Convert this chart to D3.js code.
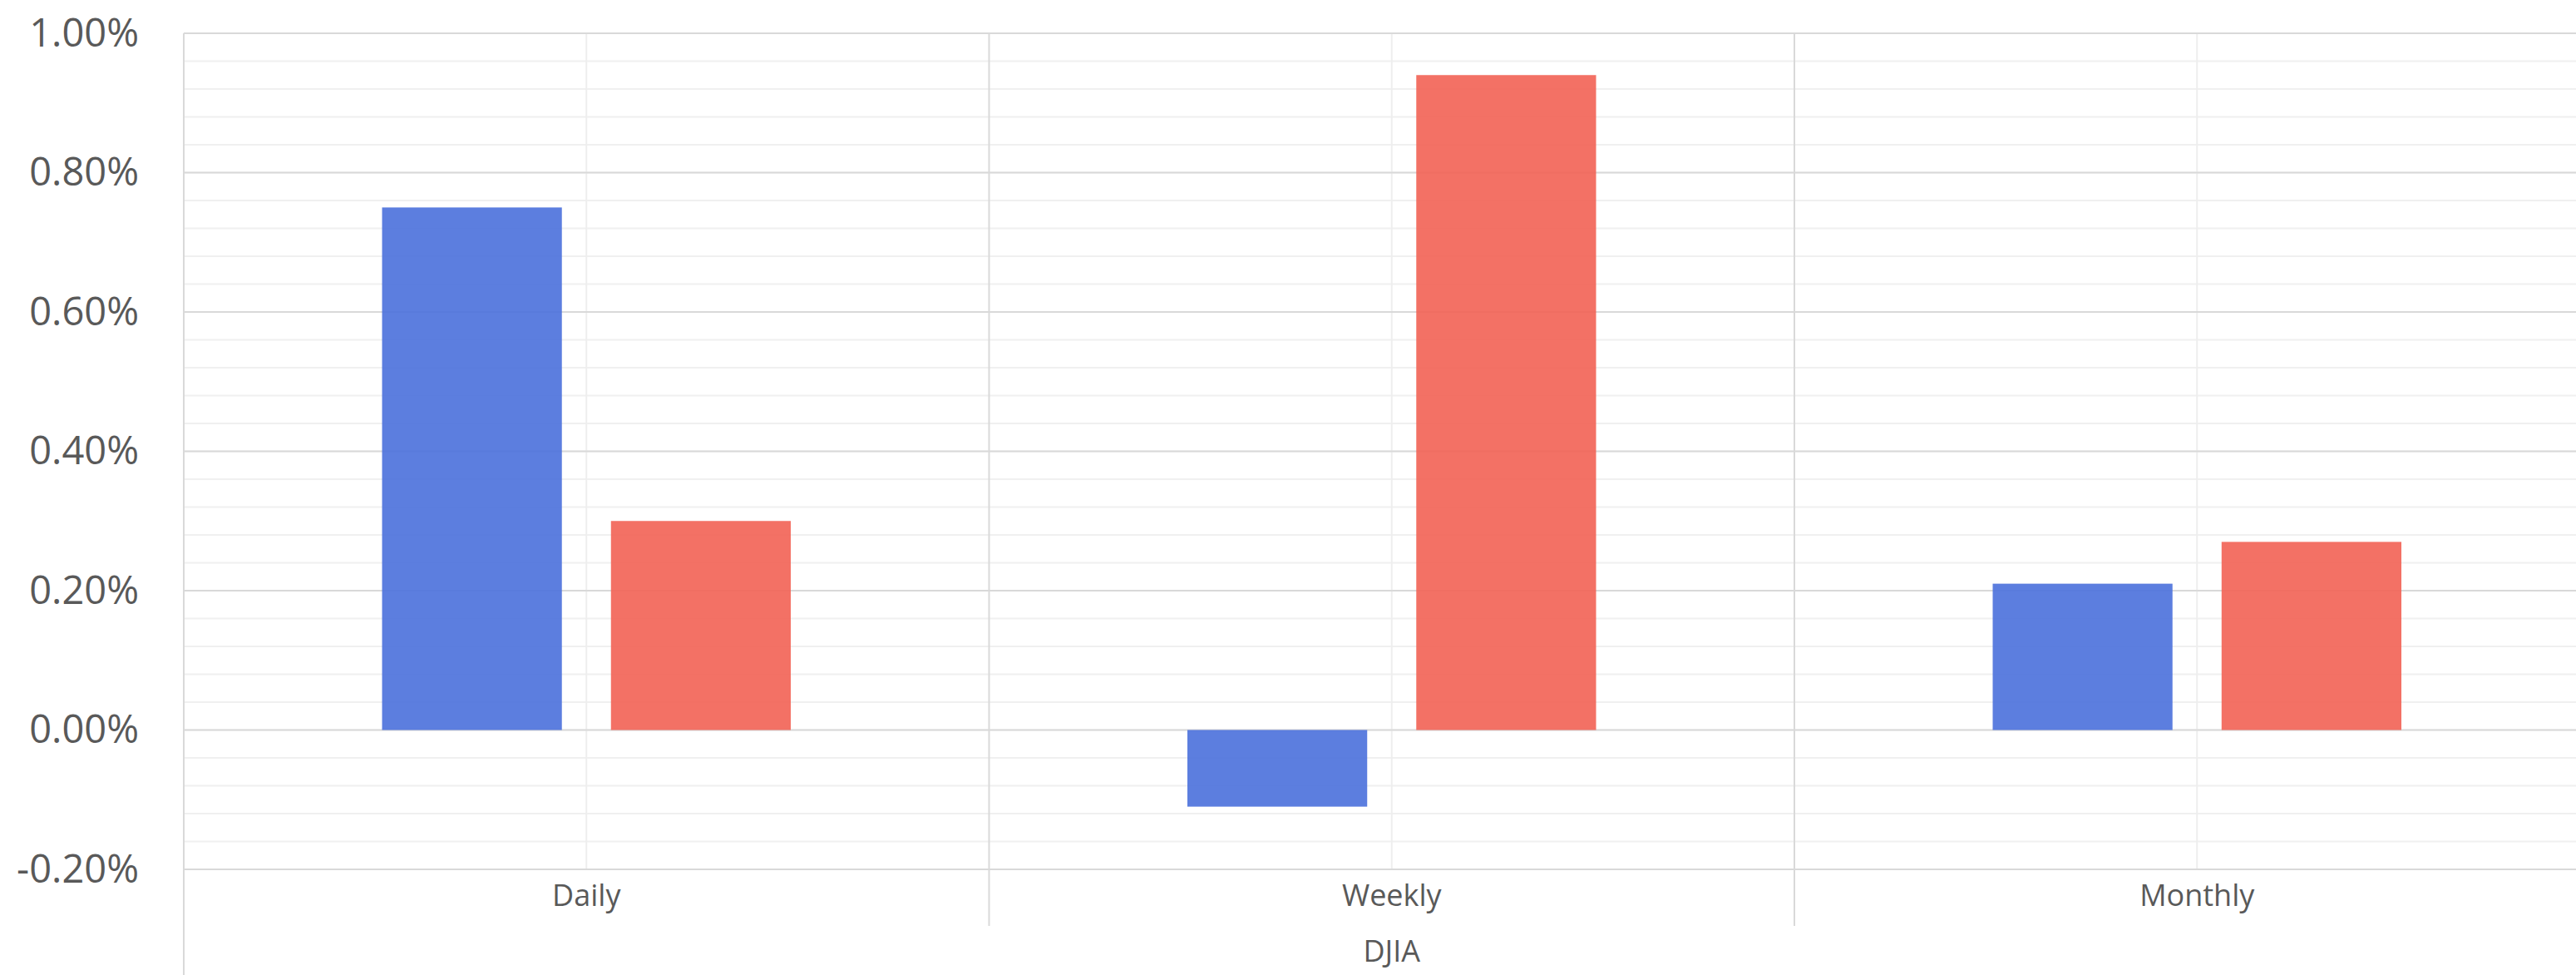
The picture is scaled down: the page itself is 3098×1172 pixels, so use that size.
<!DOCTYPE html>
<html>
<head>
<meta charset="utf-8">
<script src="https://cdn.jsdelivr.net/npm/d3@7"></script>
<style>
  html, body { margin: 0; padding: 0; background: #ffffff; }
  svg { display: block; }
</style>
</head>
<body>
<svg id="chart" width="3098" height="1172"></svg>
<script>
// ---- data ----
const categories = ["Daily", "Weekly", "Monthly"];
const groupLabel = "DJIA";
const seriesNames = ["Series A", "Series B"];
const seriesA = [0.0075, -0.0011, 0.0021];
const seriesB = [0.0030, 0.0094, 0.0027];
const majorTicks = [-0.002, 0, 0.002, 0.004, 0.006, 0.008, 0.010];
const minorTicks = d3.range(-0.002, 0.01001, 0.0004);
const seriesColors = ["#4a70db", "#f26254"];

// ---- layout ----
const W = 3098, H = 1172;
const plotLeft = 221, plotTop = 40, plotBottom = 1045;
const catW = 968.5;
const plotRight = plotLeft + catW * categories.length;

const svg = d3.select("#chart");

const y = d3.scaleLinear().domain([-0.002, 0.01]).range([plotBottom, plotTop]);
const x0 = d3.scaleBand().domain(categories).range([plotLeft, plotRight]).padding(0);
const x1 = d3.scaleBand().domain(seriesNames)
  .range([238.5, catW - 238.5]).paddingInner(0.2145).paddingOuter(0);

const locale = d3.formatLocale({decimal: ".", thousands: ",", grouping: [3], currency: ["$", ""], minus: "-"});
const fmt = locale.format(".2%");

// minor horizontal gridlines
svg.append("g")
  .selectAll("line").data(minorTicks).join("line")
  .attr("x1", plotLeft).attr("x2", W)
  .attr("y1", d => y(d)).attr("y2", d => y(d))
  .attr("stroke", "#f0f0f0").attr("stroke-width", 2);

// category center minor vertical gridlines
svg.append("g")
  .selectAll("line").data(categories).join("line")
  .attr("x1", d => x0(d) + x0.bandwidth() / 2).attr("x2", d => x0(d) + x0.bandwidth() / 2)
  .attr("y1", plotTop).attr("y2", plotBottom)
  .attr("stroke", "#eeeeee").attr("stroke-width", 2);

// major horizontal gridlines
svg.append("g")
  .selectAll("line").data(majorTicks).join("line")
  .attr("x1", plotLeft).attr("x2", W)
  .attr("y1", d => y(d)).attr("y2", d => y(d))
  .attr("stroke", "#d9d9d9").attr("stroke-width", 2);

// category separators (extend into label row)
svg.append("g")
  .selectAll("line").data(categories.slice(1)).join("line")
  .attr("x1", d => x0(d)).attr("x2", d => x0(d))
  .attr("y1", plotTop).attr("y2", 1113)
  .attr("stroke", "#d9d9d9").attr("stroke-width", 2);

// left axis line (extends to bottom)
svg.append("line")
  .attr("x1", plotLeft).attr("x2", plotLeft)
  .attr("y1", plotTop).attr("y2", H)
  .attr("stroke", "#d9d9d9").attr("stroke-width", 2);

// bars
const rows = categories.map((c, i) => ({cat: c, vals: [seriesA[i], seriesB[i]]}));
const g = svg.append("g");
rows.forEach(r => {
  r.vals.forEach((v, j) => {
    g.append("rect")
      .attr("x", x0(r.cat) + x1(seriesNames[j]))
      .attr("width", x1.bandwidth())
      .attr("y", y(Math.max(0, v)))
      .attr("height", Math.abs(y(v) - y(0)))
      .attr("fill", seriesColors[j])
      .attr("fill-opacity", 0.9);
  });
});

// y axis labels
const yAxis = d3.axisLeft(y).tickValues(majorTicks).tickFormat(fmt).tickSize(0).tickPadding(54);
const ya = svg.append("g").attr("transform", `translate(${plotLeft},0)`).call(yAxis);
ya.select(".domain").remove();
ya.selectAll("text")
  .attr("font-family", "'Open Sans', sans-serif")
  .attr("font-size", 47)
  .attr("fill", "#595959");

// x category labels
const xAxis = d3.axisBottom(x0).tickSize(0).tickPadding(0);
const xa = svg.append("g").attr("transform", `translate(0,${plotBottom})`).call(xAxis);
xa.select(".domain").remove();
xa.selectAll("text")
  .attr("y", 44)
  .attr("dy", null)
  .attr("font-family", "'Open Sans', sans-serif")
  .attr("font-size", 36)
  .attr("fill", "#595959");

// group label
svg.append("text")
  .attr("x", (plotLeft + plotRight) / 2)
  .attr("y", 1156)
  .attr("text-anchor", "middle")
  .attr("font-family", "'Open Sans', sans-serif")
  .attr("font-size", 36)
  .attr("fill", "#595959")
  .text(groupLabel);
</script>
</body>
</html>
